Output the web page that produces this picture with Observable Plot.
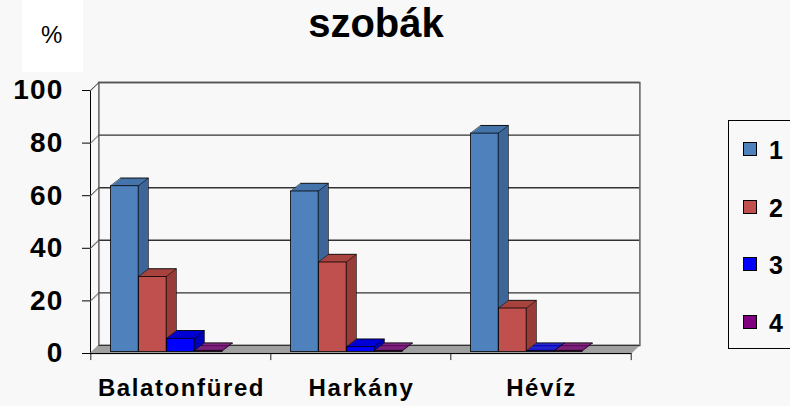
<!DOCTYPE html>
<html>
<head>
<meta charset="utf-8">
<script src="https://cdn.jsdelivr.net/npm/d3@7"></script>
<script src="https://cdn.jsdelivr.net/npm/@observablehq/plot@0.6"></script>
<style>
html, body { margin: 0; padding: 0; background: #f8f8f8; }
#wrap { position: relative; width: 790px; height: 406px; overflow: hidden; font-family: "Liberation Sans", Arial, sans-serif; }
#chart { position: absolute; left: 0; top: 0; }
#pctbox { position: absolute; left: 22px; top: 0; width: 61px; height: 72px; background: #fff; }
#pct { position: absolute; left: 41px; top: 23px; font-size: 24px; line-height: 24px; color: #000; }
#title { position: absolute; left: 276px; width: 200px; top: 3px; text-align: center; font-size: 40px; line-height: 40px; font-weight: bold; color: #000; }
#legend { position: absolute; left: 728px; top: 120px; width: 90px; height: 227px; border: 1.3px solid #000; }
.li { position: absolute; left: 14px; height: 26px; }
.sw { position: absolute; left: 0; top: 5px; width: 12px; height: 12px; border: 1.5px solid #000; }
.lt { position: absolute; left: 26px; top: 0; font-size: 25px; line-height: 26px; font-weight: bold; color: #000; font-family: "Liberation Sans", Arial, sans-serif; }
g[aria-label="y-axis tick label"] { font-size: 28px; letter-spacing: 1.2px; }
g[aria-label="x-axis tick label"] { font-size: 24px; letter-spacing: 1.6px; }
</style>
</head>
<body>
<div id="wrap">
  <div id="chart"></div>
  <div id="pctbox"></div>
  <div id="pct">%</div>
  <div id="title">szobák</div>
  <div id="legend"></div>
</div>
<script>
// ---- data ----
const cities = ["Balatonfüred", "Harkány", "Hévíz"];
const seriesNames = ["1", "2", "3", "4"];
const s1 = [63, 61, 83];
const s2 = [28.5, 34, 16.5];
const s3 = [5, 1.8, 0.3];
const s4 = [0.3, 0.3, 0.3];
const yTicks = [0, 20, 40, 60, 80, 100];

// ---- styles ----
const frontColors = ["#4f81bd", "#c0504d", "#0000ff", "#800080"];
const topColors = ["#4674ab", "#a8443f", "#0000d6", "#6c006c"];
const sideColors = ["#385d8a", "#8c3836", "#0000a8", "#520052"];

const W = 790, H = 406, ML = 90, MR = 159, MT = 90, MB = 53;
const bw = (W - ML - MR) / cities.length;
const OFF = 19.5, BW = 28;         // bar offset in band, bar width
const DX = 10, DY = 7.7, N = 10;   // bar depth
const WX = 8.4, WY = 8;            // wall depth
const BASE = 1.6;

function barMarks(arr, i) {
  const data = cities.map((c, j) => ({city: c, value: arr[j]}));
  const L = OFF + BW * i, R = bw - OFF - BW * (i + 1);
  const m = [];
  for (let k = N; k >= 1; k--) {
    m.push(Plot.barY(data, {x: "city", y: "value", insetLeft: L, insetRight: R,
      dx: k * DX / N, dy: -k * DY / N - BASE, fill: topColors[i]}));
  }
  for (let k = 1; k <= N; k++) {
    m.push(Plot.barY(data, {x: "city", y: "value", insetLeft: L + BW - 1, insetRight: R,
      dx: k * DX / N, dy: -k * DY / N - BASE, fill: sideColors[i]}));
  }
  // back top edge and back right edge
  m.push(Plot.barY(data, {x: "city", y1: "value", y2: "value", insetLeft: L, insetRight: R,
    insetTop: -0.45, insetBottom: -0.45, dx: DX, dy: -DY - BASE, fill: "#000"}));
  m.push(Plot.barY(data, {x: "city", y: "value", insetLeft: L + BW - 0.45, insetRight: R - 0.45,
    dx: DX, dy: -DY - BASE, fill: "#000"}));
  // diagonal edges
  for (let k = 0; k <= N; k++) {
    m.push(Plot.barY(data, {x: "city", y1: "value", y2: "value", insetLeft: L - 0.45, insetRight: bw - L - 0.45,
      insetTop: -0.45, insetBottom: -0.45, dx: k * DX / N, dy: -k * DY / N - BASE, fill: "#000"}));
    m.push(Plot.barY(data, {x: "city", y1: "value", y2: "value", insetLeft: L + BW - 0.45, insetRight: R - 0.45,
      insetTop: -0.45, insetBottom: -0.45, dx: k * DX / N, dy: -k * DY / N - BASE, fill: "#000"}));
  }
  // front face
  m.push(Plot.barY(data, {x: "city", y: "value", insetLeft: L, insetRight: R, dy: -BASE,
    fill: frontColors[i], stroke: "#000", strokeWidth: 0.8}));
  return m;
}

const marks = [];
// back wall
marks.push(Plot.ruleY(yTicks, {y: d => d, dx: WX, dy: -WY, stroke: "#333", strokeWidth: 1.4}));
marks.push(Plot.frame({dx: WX, dy: -WY, stroke: "#555", strokeWidth: 1.4}));
// side wall diagonals at ticks
for (let k = 0; k <= 8; k++) {
  marks.push(Plot.dot(yTicks, {y: d => d, frameAnchor: "left", dx: k * WX / 8, dy: -k * WY / 8,
    r: 0.7, fill: "#555", stroke: null}));
}
// floor
for (let k = 0; k <= N; k++) {
  marks.push(Plot.ruleY([0], {dx: k * WX / N, dy: -k * WY / N, stroke: "#a0a0a0", strokeWidth: 1.6}));
}
marks.push(Plot.ruleY([0], {dx: WX, dy: -WY, stroke: "#333", strokeWidth: 1}));
marks.push(Plot.ruleY([0], {stroke: "#000", strokeWidth: 1}));
// bars
[s1, s2, s3, s4].forEach((arr, i) => marks.push(...barMarks(arr, i)));
// category boundary ticks
marks.push(Plot.barY(cities, {x: d => d, y1: 0, y2: -2.7, insetLeft: -0.6, insetRight: bw - 0.6, fill: "#000"}));
marks.push(Plot.barY(cities.slice(-1), {x: d => d, y1: 0, y2: -2.7, insetLeft: bw - 0.6, insetRight: -0.6, fill: "#000"}));

const chart = Plot.plot({
  width: W, height: H,
  marginLeft: ML, marginRight: MR, marginTop: MT, marginBottom: MB,
  style: {fontFamily: "'Liberation Sans', Arial, sans-serif", fontWeight: "bold", fontSize: "26px",
          background: "transparent", color: "#000", overflow: "visible"},
  x: {domain: cities, padding: 0, tickSize: 0, tickPadding: 25, label: null},
  y: {domain: [0, 100], ticks: yTicks, tickSize: 8, tickPadding: 19, label: null, line: true},
  marks
});
document.getElementById("chart").appendChild(chart);

// legend
const lg = document.getElementById("legend");
const rowY = [148, 206, 263, 321];
seriesNames.forEach((s, i) => {
  const it = document.createElement("div");
  it.className = "li";
  it.style.top = (rowY[i] - 120 - 12) + "px";
  it.innerHTML = `<div class="sw" style="background:${frontColors[i]}"></div><div class="lt">${s}</div>`;
  lg.appendChild(it);
});
</script>
</body>
</html>
